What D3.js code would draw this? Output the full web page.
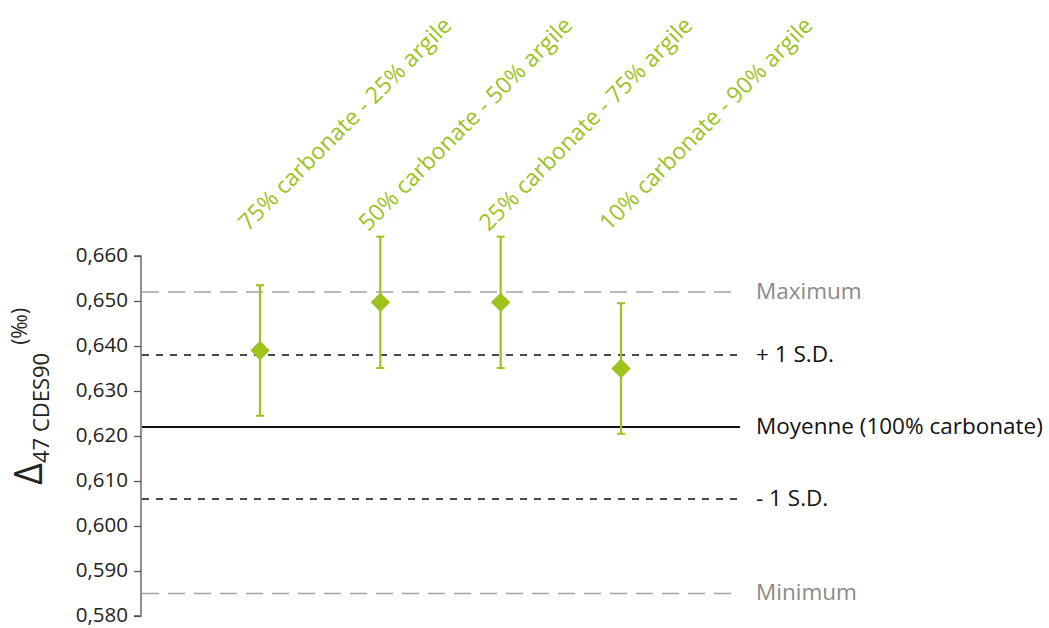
<!DOCTYPE html>
<html><head><meta charset="utf-8">
<script src="https://cdn.jsdelivr.net/npm/d3@7"></script>
<style>body{margin:0;background:#fff}svg{display:block}text{font-family:"Open Sans",sans-serif}</style>
</head><body><svg id="c" width="1049" height="628"></svg>
<script>
const categories = ["75% carbonate - 25% argile","50% carbonate - 50% argile","25% carbonate - 75% argile","10% carbonate - 90% argile"];
const values = [0.639, 0.6497, 0.6497, 0.635];
const errors = [0.0145, 0.0146, 0.0146, 0.0145];
const refLabels = ["Maximum","+ 1 S.D.","Moyenne (100% carbonate)","- 1 S.D.","Minimum"];
const refValues = [0.652, 0.638, 0.622, 0.606, 0.585];
const refStyles = ["max","sd","mean","sd","max"];
const yTicks = [0.580,0.590,0.600,0.610,0.620,0.630,0.640,0.650,0.660];

const green = "#9cc21b";
const svg = d3.select("#c");
const y = d3.scaleLinear().domain([0.580,0.660]).range([616,256]);
const x = d3.scalePoint().domain(categories).range([260,621]);
const x0 = 141, x1 = 740;

// y axis
const ax = svg.append("g").attr("transform",`translate(${x0},0)`)
  .call(d3.axisLeft(y).tickValues(yTicks).tickSize(7).tickPadding(6)
    .tickFormat(d=>d3.format(".3f")(d).replace(".",",")));
ax.select(".domain").attr("stroke","#555").attr("stroke-width",1.3).attr("d",`M-7,${y(0.660)}H0V${y(0.580)}H-7`);
ax.selectAll(".tick line").attr("stroke","#555").attr("stroke-width",1.3);
ax.selectAll(".tick text").attr("font-size",20.5).attr("fill","#222").attr("dy","0.28em");

// reference lines
const st = {
  max:{stroke:"#a3a3a3",w:1.6,dash:"17,9",col:"#8a8a8a"},
  sd:{stroke:"#111",w:1.5,dash:"7,7",col:"#111"},
  mean:{stroke:"#111",w:1.8,dash:null,col:"#111"}
};
refValues.forEach((v,i)=>{
  const s = st[refStyles[i]];
  svg.append("line").attr("x1",x0+1).attr("x2",x1).attr("y1",y(v)).attr("y2",y(v))
    .attr("stroke",s.stroke).attr("stroke-width",s.w).attr("stroke-dasharray",s.dash);
  svg.append("text").attr("x",756).attr("y",y(v)).attr("dy","0.3em")
    .attr("font-size",22.5).attr("fill",s.col).text(refLabels[i]);
});

// error bars
const g = svg.append("g");
categories.forEach((c,i)=>{
  const cx = x(c), v = values[i], e = errors[i];
  g.append("line").attr("x1",cx).attr("x2",cx).attr("y1",y(v+e)).attr("y2",y(v-e)).attr("stroke",green).attr("stroke-width",2.2);
  [v+e,v-e].forEach(t=>g.append("line").attr("x1",cx-4).attr("x2",cx+4).attr("y1",y(t)).attr("y2",y(t)).attr("stroke",green).attr("stroke-width",2));
  g.append("path").attr("d",d3.symbol(d3.symbolDiamond2,240)()).attr("transform",`translate(${cx},${y(v)})`).attr("fill",green);
  // category labels
  svg.append("text").attr("transform",`translate(${cx-12},${232}) rotate(-45)`)
    .attr("font-size",23).attr("fill",green).text(c);
});

// y label
const yl = svg.append("text").attr("transform","translate(42,485) rotate(-90)").attr("fill","#222");
yl.append("tspan").attr("font-size",38).text("Δ");
yl.append("tspan").attr("font-size",22).attr("dy",7).text("47 CDES90");
yl.append("tspan").attr("font-size",21).attr("dy",-22).attr("dx",8).text("(‰)");
</script></body></html>
